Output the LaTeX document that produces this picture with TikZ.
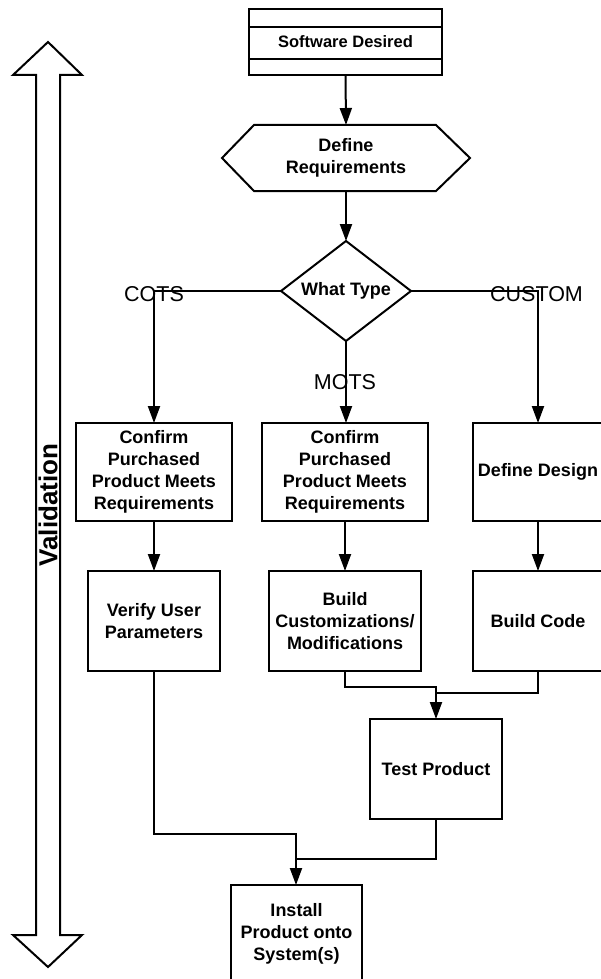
\documentclass[tikz,border=0pt]{standalone}
\usepackage{fontspec}
\setmainfont{Liberation Sans}
\usetikzlibrary{arrows.meta}
\begin{document}
\begin{tikzpicture}[x=1pt,y=-1pt,
  line join=miter,
  boxtxt/.style={font=\bfseries\fontsize{18}{22}\selectfont, align=center},
  box/.style={draw, line width=2pt, inner sep=0pt, outer sep=0pt, boxtxt},
  thinbox/.style={box, line width=1.5pt},
  ghost/.style={inner sep=0pt, outer sep=0pt, boxtxt},
  conn/.style={line width=2pt},
  arr/.style={conn, -{Triangle[length=17pt,width=12pt]}},
  lbl/.style={font=\fontsize{21.5}{24}\selectfont, inner sep=0pt}
]
\useasboundingbox (0,0) rectangle (601,979);

% Validation double arrow
\draw[line width=2pt] (48,42) -- (82,75) -- (60,75) -- (60,935) -- (82,935) -- (48,967)
  -- (13,935) -- (36,935) -- (36,75) -- (13,75) -- cycle;
\node[rotate=90, font=\bfseries\fontsize{26}{30}\selectfont, inner sep=0pt] (val) at (48,505) {Validation};

% Software Desired
\node[box, minimum width=193pt, minimum height=66pt, font=\bfseries\fontsize{16.5}{20}\selectfont] (sw) at (345.5,42) {Software Desired};
\draw[line width=2pt] (sw.west |- 0,27) -- (sw.east |- 0,27);
\draw[line width=2pt] (sw.west |- 0,59) -- (sw.east |- 0,59);

% Define Requirements (hexagon)
\node[ghost, minimum width=248pt, minimum height=66pt] (req) at (346,158) {Define\\Requirements};
\draw[line width=2pt] (req.west) -- ([xshift=32pt]req.north west) -- ([xshift=-34pt]req.north east)
  -- (req.east) -- ([xshift=-34pt]req.south east) -- ([xshift=32pt]req.south west) -- cycle;

% What Type (diamond)
\node[ghost, minimum width=130pt, minimum height=100pt] (type) at (346,291) {What Type};
\draw[line width=2pt] (type.north) -- (type.east) -- (type.south) -- (type.west) -- cycle;

% Row 1
\node[box, minimum width=156pt, minimum height=98pt] (c1) at (154,472) {Confirm\\Purchased\\Product Meets\\Requirements};
\node[box, minimum width=166pt, minimum height=98pt] (c2) at (345,472) {Confirm\\Purchased\\Product Meets\\Requirements};
\node[thinbox, minimum width=130pt, minimum height=98pt] (c3) at (538,472) {Define Design};

% Row 2
\node[box, minimum width=132pt, minimum height=100pt] (v1) at (154,621) {Verify User\\Parameters};
\node[box, minimum width=152pt, minimum height=100pt] (b2) at (345,621) {Build\\Customizations/\\Modifications};
\node[thinbox, minimum width=130pt, minimum height=100pt] (b3) at (538,621) {Build Code};

% Test and Install
\node[box, minimum width=132pt, minimum height=100pt] (test) at (436,769) {Test Product};
\node[thinbox, minimum width=131pt, minimum height=97pt] (inst) at (296.5,933.5) {Install\\Product onto\\System(s)};

% Connectors
\draw[arr] (sw.south) -- (req.north);
\draw[arr] (req.south) -- (type.north);
\draw[arr] (type.west) -| (c1.north);
\draw[arr] (type.east) -| (c3.north);
\draw[arr] (type.south) -- (type.south |- c2.north);
\draw[arr] (c1.south) -- (v1.north);
\draw[arr] (c2.south) -- (c2.south |- b2.north);
\draw[arr] (c3.south) -- (b3.north);

\coordinate (j1) at (436,687);
\coordinate (j2) at (436,693);
\draw[arr] (b2.south) |- (j1) -- (test.north);
\draw[conn] (b3.south) |- (j2);

\coordinate (j3) at (296,834);
\coordinate (j4) at (296,859);
\draw[arr] (v1.south) |- (j3) -- (j3 |- inst.north);
\draw[conn] (test.south) |- (j4);

% Labels
\node[lbl] (cots) at (154,294) {COTS};
\node[lbl] (custom) at (536.5,294) {CUSTOM};
\node[lbl] (mots) at (345,382) {MOTS};
\end{tikzpicture}
\end{document}
